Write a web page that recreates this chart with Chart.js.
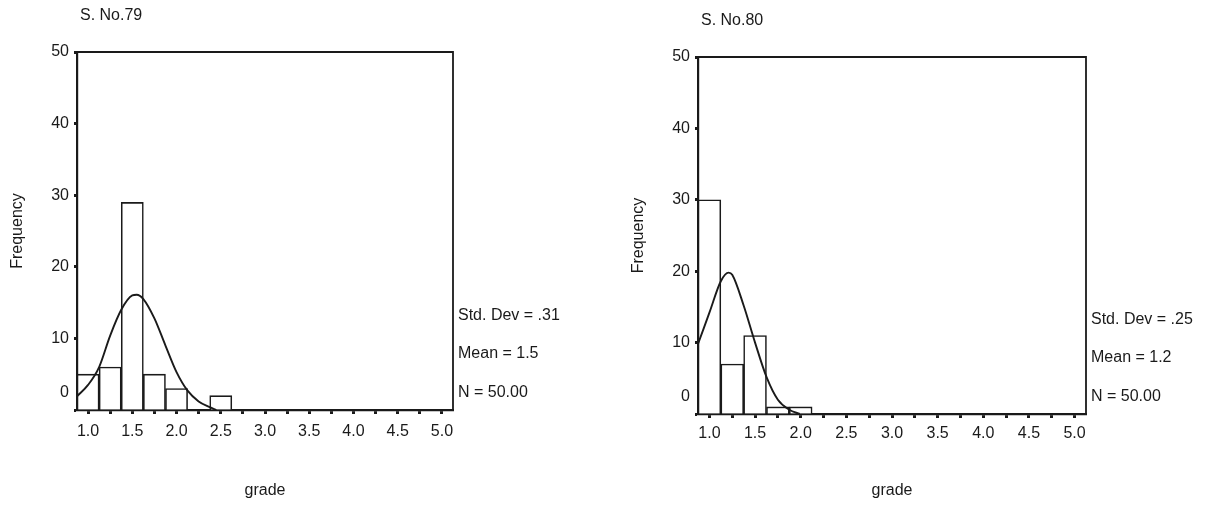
<!DOCTYPE html>
<html>
<head>
<meta charset="utf-8">
<title>grade histograms</title>
<script src="https://cdn.jsdelivr.net/npm/chart.js@4.4.1/dist/chart.umd.min.js"></script>
<style>
  html, body { margin: 0; padding: 0; background: #fff; }
  #wrap { position: relative; width: 1214px; height: 507px; }
  #wrap canvas { position: absolute; top: 0; }
  #chart79 { left: 0; }
  #chart80 { left: 607px; }
</style>
</head>
<body>
<div id="wrap">
  <canvas id="chart79" width="607" height="507"></canvas>
  <canvas id="chart80" width="607" height="507"></canvas>
</div>
<script>
// histogram bins, width .25
var binCenters = [1.0, 1.25, 1.5, 1.75, 2.0, 2.25, 2.5];
var freq79 = [5, 6, 29, 5, 3, 0, 2];
var freq80 = [30, 7, 11, 1, 1, 0, 0];

// normal curve overlays
var curveX79 = [0.875, 1.0, 1.125, 1.25, 1.375, 1.5, 1.55, 1.625, 1.75, 1.875, 2.0, 2.125, 2.25, 2.375, 2.45];
var curveY79 = [1.9, 3.5, 6.0, 10.4, 14.0, 16.0, 16.1, 15.5, 12.8, 9.0, 5.3, 2.7, 1.2, 0.4, 0];
var curveX80 = [0.875, 1.0, 1.125, 1.21, 1.25, 1.375, 1.5, 1.625, 1.75, 1.875, 1.99];
var curveY80 = [9.8, 14.2, 18.6, 19.8, 19.5, 15.2, 10.0, 5.2, 2.0, 0.6, 0];

// axis labels
var gradeTicks = [1.0, 1.5, 2.0, 2.5, 3.0, 3.5, 4.0, 4.5, 5.0];
var freqTicks = [0, 10, 20, 30, 40, 50];

var stats79 = ["Std. Dev = .31", "Mean = 1.5", "N = 50.00"];
var stats80 = ["Std. Dev = .25", "Mean = 1.2", "N = 50.00"];

var ink = "#1a1a1a";
var fontFamily = '"Liberation Sans", Arial, sans-serif';
Chart.defaults.font.family = fontFamily;
Chart.defaults.color = ink;

// closes the box and writes the heading, the stats and the raised "0"
var spssFrame = {
    id: "spssFrame",
    afterDraw: function(chart, args, opts) {
        var ca = chart.chartArea;
        var ctx = chart.ctx;
        var yScale = chart.scales.y;
        ctx.save();
        ctx.strokeStyle = ink;
        ctx.lineWidth = 1.8;
        ctx.beginPath();
        ctx.moveTo(ca.left, ca.top);
        ctx.lineTo(ca.right, ca.top);
        ctx.lineTo(ca.right, ca.bottom);
        ctx.stroke();

        ctx.fillStyle = ink;
        ctx.font = "16px " + fontFamily;
        ctx.textBaseline = "middle";
        ctx.textAlign = "left";
        ctx.fillText(opts.heading, ca.left + 3, ca.top - 36);
        opts.stats.forEach(function(s, i) {
            ctx.fillText(s, ca.right + 5, ca.bottom - 94.5 + i * 38.5);
        });

        ctx.textAlign = "right";
        ctx.fillText("0", ca.left - 8, yScale.getPixelForValue(0) - 17);
        ctx.restore();
    }
};

function makeChart(id, freqs, cx, cy, heading, stats, lay) {
    var bars = binCenters.map(function(x, i) { return {x: x, y: freqs[i]}; });
    var curve = cx.map(function(x, i) { return {x: x, y: cy[i]}; });

    return new Chart(document.getElementById(id), {
        type: "bar",
        data: {
            datasets: [
                {
                    type: "line",
                    data: curve,
                    borderColor: ink,
                    borderWidth: 1.9,
                    pointRadius: 0,
                    cubicInterpolationMode: "monotone",
                    fill: false,
                    order: 0
                },
                {
                    type: "bar",
                    data: bars,
                    backgroundColor: "#fff",
                    borderColor: ink,
                    borderWidth: 1.6,
                    borderSkipped: "start",
                    barPercentage: 1,
                    categoryPercentage: 1,
                    order: 1
                }
            ]
        },
        options: {
            responsive: false,
            animation: false,
            layout: { padding: lay.padding },
            plugins: {
                legend: { display: false },
                tooltip: { enabled: false },
                spssFrame: { heading: heading, stats: stats }
            },
            scales: {
                x: {
                    type: "linear",
                    min: 0.875,
                    max: 5.125,
                    offset: false,
                    afterBuildTicks: function(scale) {
                        var t = [];
                        for (var v = 1.0; v <= 5.0001; v += 0.25) t.push({value: v});
                        scale.ticks = t;
                    },
                    afterFit: function(scale) { scale.height = lay.xHeight; },
                    grid: {
                        offset: false,
                        drawOnChartArea: false,
                        tickLength: 4,
                        tickWidth: 3,
                        tickColor: ink
                    },
                    border: { color: ink, width: 2.2 },
                    ticks: {
                        autoSkip: false,
                        maxRotation: 0,
                        padding: lay.xPad,
                        color: ink,
                        font: { size: 16 },
                        callback: function(v) {
                            return gradeTicks.some(function(g) { return Math.abs(g - v) < 1e-6; }) ? v.toFixed(1) : "";
                        }
                    },
                    title: {
                        display: true,
                        text: "grade",
                        color: ink,
                        font: { size: 16 },
                        padding: { top: 4, bottom: 7 }
                    }
                },
                y: {
                    min: 0,
                    max: 50,
                    afterBuildTicks: function(scale) {
                        scale.ticks = freqTicks.map(function(v) { return {value: v}; });
                    },
                    afterFit: function(scale) { scale.width = 77; },
                    grid: {
                        drawOnChartArea: false,
                        tickLength: 3,
                        tickWidth: 3,
                        tickColor: ink
                    },
                    border: { color: ink, width: 2.2 },
                    ticks: {
                        padding: 5,
                        color: ink,
                        font: { size: 16 },
                        callback: function(v) { return v === 0 ? "" : v; }
                    },
                    title: {
                        display: true,
                        text: "Frequency",
                        color: ink,
                        font: { size: 16 },
                        padding: { top: 8, bottom: 4 }
                    }
                }
            }
        },
        plugins: [spssFrame]
    });
}

makeChart("chart79", freq79, curveX79, curveY79, "S. No.79", stats79,
    { padding: { left: 0, top: 52, right: 154, bottom: 0 }, xHeight: 97, xPad: 8 });
makeChart("chart80", freq80, curveX80, curveY80, "S. No.80", stats80,
    { padding: { left: 14, top: 57, right: 128, bottom: 0 }, xHeight: 93, xPad: 6 });
</script>
</body>
</html>
